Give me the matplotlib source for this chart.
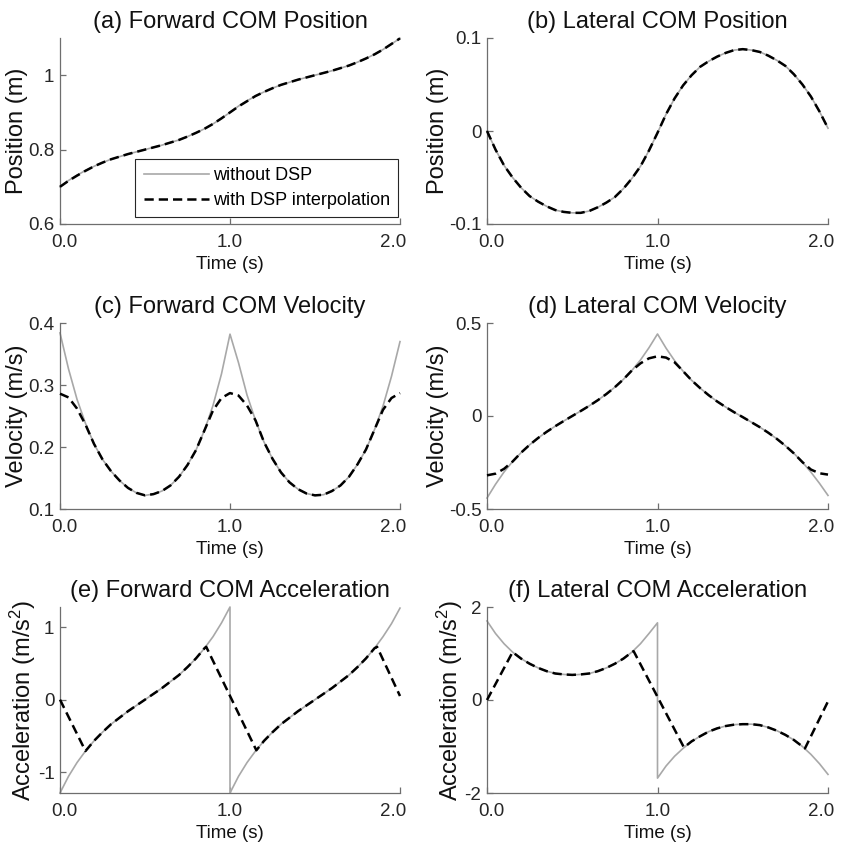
import matplotlib
matplotlib.use("Agg")
import matplotlib.pyplot as plt
from matplotlib.transforms import ScaledTranslation

plt.rcParams['font.family'] = ['Liberation Sans', 'DejaVu Sans']
plt.rcParams['mathtext.fontset'] = 'custom'
plt.rcParams['mathtext.rm'] = 'Liberation Sans'
plt.rcParams['mathtext.it'] = 'Liberation Sans:italic'

# ---- sample times (s) ----
TIME = [0.00, 0.05, 0.10, 0.15, 0.20, 0.25, 0.30, 0.35, 0.40, 0.45,
        0.50, 0.55, 0.60, 0.65, 0.70, 0.75, 0.80, 0.85, 0.90, 0.95,
        1.00, 1.05, 1.10, 1.15, 1.20, 1.25, 1.30, 1.35, 1.40, 1.45,
        1.50, 1.55, 1.60, 1.65, 1.70, 1.75, 1.80, 1.85, 1.90, 1.95, 2.00]
STEP1_TIME = TIME[:21]   # 0.0 .. 1.0
STEP2_TIME = TIME[20:]   # 1.0 .. 2.0

# times of the DSP-interpolated acceleration (ramps between breakpoints)
ACC_DSP_TIME = [0.00, 0.15,
                0.20, 0.25, 0.30, 0.35, 0.40, 0.45, 0.50, 0.55, 0.60, 0.65,
                0.70, 0.75, 0.80, 0.85, 0.86, 1.155,
                1.20, 1.25, 1.30, 1.35, 1.40, 1.45, 1.50, 1.55, 1.60, 1.65,
                1.70, 1.75, 1.80, 1.85, 1.865, 2.00]

# ---- forward COM position (m) ----
fwd_pos_plain = [0.700, 0.717, 0.731, 0.744, 0.755, 0.765, 0.774, 0.781, 0.788, 0.794,
                 0.800, 0.806, 0.812, 0.819, 0.826, 0.835, 0.845, 0.856, 0.869, 0.884,
                 0.900, 0.917, 0.931, 0.944, 0.955, 0.965, 0.974, 0.981, 0.988, 0.994,
                 1.000, 1.006, 1.012, 1.019, 1.026, 1.035, 1.045, 1.056, 1.069, 1.084, 1.099]
fwd_pos_dsp = [0.700, 0.716, 0.730, 0.743, 0.755, 0.765, 0.774, 0.781, 0.788, 0.794,
               0.800, 0.806, 0.812, 0.819, 0.826, 0.835, 0.845, 0.856, 0.869, 0.884,
               0.900, 0.916, 0.930, 0.944, 0.955, 0.965, 0.974, 0.981, 0.988, 0.994,
               1.000, 1.006, 1.012, 1.019, 1.026, 1.035, 1.045, 1.056, 1.069, 1.084, 1.099]

# ---- lateral COM position (m) ----
lat_pos_plain = [0.000, -0.020, -0.037, -0.050, -0.061, -0.070, -0.076, -0.081, -0.085, -0.087,
                 -0.088, -0.088, -0.086, -0.082, -0.077, -0.071, -0.062, -0.051, -0.038, -0.021,
                 -0.002, 0.018, 0.035, 0.049, 0.060, 0.069, 0.075, 0.080, 0.084, 0.087,
                 0.088, 0.087, 0.085, 0.081, 0.076, 0.070, 0.061, 0.050, 0.037, 0.021, 0.003]
lat_pos_dsp = [0.000, -0.020, -0.037, -0.050, -0.061, -0.070, -0.076, -0.081, -0.085, -0.087,
               -0.088, -0.088, -0.086, -0.082, -0.077, -0.071, -0.062, -0.051, -0.038, -0.021,
               -0.002, 0.018, 0.035, 0.049, 0.060, 0.069, 0.075, 0.080, 0.084, 0.087,
               0.088, 0.087, 0.085, 0.081, 0.076, 0.070, 0.061, 0.050, 0.037, 0.021, 0.003]

# ---- forward COM velocity (m/s) ----
fwd_vel_plain = [0.384, 0.326, 0.277, 0.238, 0.205, 0.180, 0.161, 0.146, 0.134, 0.126,
                 0.122, 0.124, 0.129, 0.138, 0.152, 0.171, 0.195, 0.227, 0.267, 0.318,
                 0.382, 0.336, 0.284, 0.243, 0.208, 0.181, 0.159, 0.143, 0.132, 0.125,
                 0.122, 0.123, 0.129, 0.138, 0.152, 0.172, 0.196, 0.228, 0.266, 0.314, 0.370]
fwd_vel_dsp = [0.286, 0.280, 0.262, 0.236, 0.205, 0.180, 0.161, 0.146, 0.134, 0.126,
               0.122, 0.124, 0.129, 0.138, 0.152, 0.171, 0.195, 0.227, 0.259, 0.279,
               0.287, 0.283, 0.267, 0.243, 0.208, 0.181, 0.159, 0.143, 0.132, 0.125,
               0.122, 0.123, 0.129, 0.138, 0.152, 0.172, 0.196, 0.228, 0.260, 0.279, 0.287]

# ---- lateral COM velocity (m/s) ----
lat_vel_plain = [-0.441, -0.367, -0.301, -0.245, -0.197, -0.155, -0.118, -0.085, -0.055, -0.027,
                 0.000, 0.027, 0.055, 0.085, 0.118, 0.155, 0.197, 0.245, 0.301, 0.367,
                 0.441, 0.365, 0.298, 0.241, 0.192, 0.150, 0.112, 0.078, 0.048, 0.020,
                 -0.006, -0.033, -0.060, -0.090, -0.123, -0.160, -0.201, -0.248, -0.302, -0.362, -0.427]
lat_vel_dsp = [-0.319, -0.310, -0.284, -0.245, -0.197, -0.155, -0.118, -0.085, -0.055, -0.027,
               0.000, 0.027, 0.055, 0.085, 0.118, 0.155, 0.197, 0.245, 0.283, 0.310,
               0.321, 0.314, 0.289, 0.241, 0.192, 0.150, 0.112, 0.078, 0.048, 0.020,
               -0.006, -0.033, -0.060, -0.090, -0.123, -0.160, -0.201, -0.248, -0.288, -0.308, -0.315]

# ---- forward COM acceleration (m/s^2), one list per step ----
fwd_acc_plain_step1 = [-1.29, -1.06, -0.87, -0.71, -0.57, -0.45, -0.34, -0.25, -0.16, -0.08,
                       0.00, 0.08, 0.16, 0.25, 0.34, 0.45, 0.57, 0.71, 0.87, 1.06, 1.28]
fwd_acc_plain_step2 = [-1.29, -1.06, -0.87, -0.71, -0.57, -0.45, -0.34, -0.25, -0.16, -0.08,
                       0.00, 0.08, 0.16, 0.25, 0.34, 0.45, 0.57, 0.71, 0.87, 1.05, 1.265]
fwd_acc_dsp = [0.00, -0.71,
               -0.57, -0.45, -0.34, -0.25, -0.16, -0.08, 0.00, 0.08, 0.16, 0.25,
               0.34, 0.45, 0.57, 0.71, 0.73, -0.70,
               -0.57, -0.45, -0.34, -0.25, -0.16, -0.08, 0.00, 0.08, 0.16, 0.25,
               0.34, 0.45, 0.57, 0.71, 0.73, 0.05]

# ---- lateral COM acceleration (m/s^2), one list per step ----
lat_acc_plain_step1 = [1.70, 1.43, 1.21, 1.03, 0.89, 0.78, 0.69, 0.62, 0.57, 0.55,
                       0.54, 0.55, 0.57, 0.62, 0.69, 0.78, 0.89, 1.03, 1.21, 1.43, 1.66]
lat_acc_plain_step2 = [-1.68, -1.42, -1.21, -1.04, -0.89, -0.78, -0.68, -0.61, -0.56, -0.53,
                       -0.52, -0.52, -0.54, -0.59, -0.66, -0.75, -0.86, -1.00, -1.17, -1.37, -1.60]
lat_acc_dsp = [0.00, 1.03,
               0.89, 0.78, 0.69, 0.62, 0.57, 0.55, 0.54, 0.55, 0.57, 0.62,
               0.69, 0.78, 0.89, 1.03, 1.05, -1.02,
               -0.89, -0.78, -0.68, -0.61, -0.56, -0.53, -0.52, -0.52, -0.54, -0.59,
               -0.66, -0.75, -0.86, -1.00, -1.04, -0.03]

GREY = '#a8a8a8'
INK = '#262626'
AXIS = '#6e6e6e'

fig = plt.figure(figsize=(8.42, 8.50), dpi=100)

W, H = 842.0, 850.0
cols = [60, 487]
col_w = [340, 341]
rows_top = [38, 323, 607]
row_h = 186

axes = []
for r in range(3):
    for c in range(2):
        left = cols[c] / W
        bottom = (H - rows_top[r] - row_h) / H
        axes.append(fig.add_axes([left, bottom, col_w[c] / W, row_h / H]))


def style(ax, title, ylabel, ylim, yticks, yticklabels):
    ax.set_xlim(0, 2)
    ax.set_ylim(*ylim)
    for side in ('top', 'right'):
        ax.spines[side].set_visible(False)
    for side in ('left', 'bottom'):
        ax.spines[side].set_color(AXIS)
        ax.spines[side].set_linewidth(0.9)
    ax.set_xticks([0, 1, 2])
    ax.set_xticklabels(['0.0', '1.0', '2.0'])
    ax.set_yticks(yticks)
    ax.set_yticklabels(yticklabels)
    ax.tick_params(direction='in', length=4, width=0.9, color=AXIS,
                   labelsize=13.5, labelcolor=INK)
    ax.tick_params(axis='x', pad=7)
    ax.tick_params(axis='y', pad=4)
    # keep the end labels tucked inside the axis span
    xl = ax.get_xticklabels()
    xl[0].set_transform(xl[0].get_transform() +
                        ScaledTranslation(4 / 100, 0, fig.dpi_scale_trans))
    xl[-1].set_transform(xl[-1].get_transform() +
                         ScaledTranslation(-7 / 100, 0, fig.dpi_scale_trans))
    ax.set_title(title, fontsize=17, color='#111111', pad=7)
    ax.set_xlabel('Time (s)', fontsize=13.5, color='#111111', labelpad=3.5)
    ax.set_ylabel(ylabel, fontsize=17, color='#111111', labelpad=0)


def pair(ax, t_plain, y_plain, t_dsp, y_dsp):
    g, = ax.plot(t_plain, y_plain, color=GREY, lw=1.2, clip_on=False,
                 label='without DSP', zorder=2)
    d, = ax.plot(t_dsp, y_dsp, color='black', lw=1.8, ls=(0, (3.7, 2.0)),
                 clip_on=False, label='with DSP interpolation', zorder=3)
    return g, d


ax = axes[0]
pair(ax, TIME, fwd_pos_plain, TIME, fwd_pos_dsp)
style(ax, '(a) Forward COM Position', 'Position (m)', (0.6, 1.1),
      [0.6, 0.8, 1.0], ['0.6', '0.8', '1'])
leg = ax.legend(loc='lower right', bbox_to_anchor=(0.995, 0.035), fontsize=13,
                frameon=True, fancybox=False, edgecolor=INK, framealpha=1,
                handlelength=3.6, handletextpad=0.25, borderpad=0.45,
                labelspacing=0.45, borderaxespad=0)
leg.get_frame().set_linewidth(0.8)

ax = axes[1]
pair(ax, TIME, lat_pos_plain, TIME, lat_pos_dsp)
style(ax, '(b) Lateral COM Position', 'Position (m)', (-0.1, 0.1),
      [-0.1, 0.0, 0.1], ['-0.1', '0', '0.1'])

ax = axes[2]
pair(ax, TIME, fwd_vel_plain, TIME, fwd_vel_dsp)
style(ax, '(c) Forward COM Velocity', 'Velocity (m/s)', (0.1, 0.4),
      [0.1, 0.2, 0.3, 0.4], ['0.1', '0.2', '0.3', '0.4'])

ax = axes[3]
pair(ax, TIME, lat_vel_plain, TIME, lat_vel_dsp)
style(ax, '(d) Lateral COM Velocity', 'Velocity (m/s)', (-0.5, 0.5),
      [-0.5, 0.0, 0.5], ['-0.5', '0', '0.5'])

ax = axes[4]
fwd_acc_plain = fwd_acc_plain_step1 + fwd_acc_plain_step2
pair(ax, STEP1_TIME + STEP2_TIME, fwd_acc_plain, ACC_DSP_TIME, fwd_acc_dsp)
style(ax, '(e) Forward COM Acceleration', 'Acceleration (m/s$^{2}$)',
      (min(fwd_acc_plain), max(fwd_acc_plain)),
      [-1, 0, 1], ['-1', '0', '1'])

ax = axes[5]
pair(ax, STEP1_TIME + STEP2_TIME, lat_acc_plain_step1 + lat_acc_plain_step2,
     ACC_DSP_TIME, lat_acc_dsp)
style(ax, '(f) Lateral COM Acceleration', 'Acceleration (m/s$^{2}$)', (-2, 2),
      [-2, 0, 2], ['-2', '0', '2'])

fig.savefig('out.png', dpi=100)
